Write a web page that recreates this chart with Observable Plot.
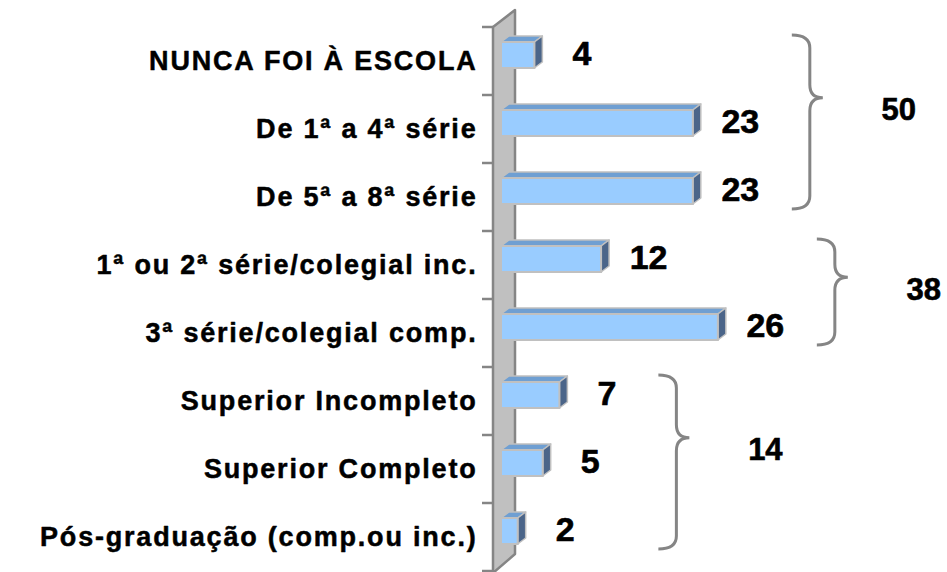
<!DOCTYPE html>
<html><head><meta charset="utf-8">
<script src="https://cdn.jsdelivr.net/npm/d3@7"></script>
<script src="https://cdn.jsdelivr.net/npm/@observablehq/plot@0.6"></script>
<style>
html,body{margin:0;padding:0;background:#fff;}
#chart svg{display:block;}
</style>
</head><body><div id="chart"></div>
<script>
// ---- data ----
const categories = [
  "NUNCA FOI À ESCOLA",
  "De 1ª a 4ª série",
  "De 5ª a 8ª série",
  "1ª ou 2ª série/colegial inc.",
  "3ª série/colegial comp.",
  "Superior Incompleto",
  "Superior Completo",
  "Pós-graduação (comp.ou inc.)"
];
const values = [4, 23, 23, 12, 26, 7, 5, 2];
const groupFirst = [0, 3, 5];
const groupLast = [2, 4, 7];

// ---- derived tables ----
const data = categories.map((c, i) => ({cat: c, value: values[i]}));
const groups = groupFirst.map((f, i) => {
  const vs = values.slice(f, groupLast[i] + 1);
  return {first: categories[f], last: categories[groupLast[i]], max: d3.max(vs), sum: d3.sum(vs)};
});

// ---- styling constants ----
const FONT = "'Liberation Sans', Arial, sans-serif";
const BAR_INSET = 21, BAR_DX = 8, BAR_DY = -6, DEPTH_X = 8, DEPTH_Y = -6;
const WALL_X = 22, WALL_Y = 17;

function bw(y) {
  return typeof y.bandwidth === "function" ? y.bandwidth() : y.bandwidth;
}

function wallMark(index, {x, y}, values, dims) {
  const x0 = x(0), top = dims.marginTop, bottom = dims.height - dims.marginBottom;
  const g = d3.create("svg:g");
  g.append("path")
    .attr("d", `M${x0},${bottom + 2}L${x0},${top}L${x0 + WALL_X},${top - WALL_Y}L${x0 + WALL_X},${bottom - WALL_Y}L${x0},${bottom + 2 }`)
    .attr("fill", "#c0c0c0").attr("stroke", "#858585").attr("stroke-width", 2.5).attr("stroke-linejoin", "round");
  const b = bw(y);
  const edges = categories.map(c => y(c)).concat([y(categories[categories.length - 1]) + b]);
  g.selectAll("line").data(edges).join("line")
    .attr("x1", x0 - 11).attr("x2", x0).attr("y1", d => d).attr("y2", d => d)
    .attr("stroke", "#858585").attr("stroke-width", 2.5);
  return g.node();
}

function barFaces(index, {x, y}) {
  const b = bw(y);
  const g = d3.create("svg:g");
  data.forEach(d => {
    const xl = x(0) + BAR_DX, xr = x(d.value) + BAR_DX;
    const yt = y(d.cat) + BAR_INSET + BAR_DY, yb = y(d.cat) + b - BAR_INSET + BAR_DY;
    g.append("path")
      .attr("d", `M${xl},${yt}L${xl + DEPTH_X},${yt + DEPTH_Y}L${xr + DEPTH_X},${yt + DEPTH_Y}L${xr},${yt}Z`)
      .attr("fill", "#6f9fd2").attr("stroke", "#c0c0c0").attr("stroke-width", 1.5).attr("stroke-linejoin", "round");
    g.append("path")
      .attr("d", `M${xr},${yt}L${xr + DEPTH_X},${yt + DEPTH_Y}L${xr + DEPTH_X},${yb + DEPTH_Y}L${xr},${yb}Z`)
      .attr("fill", "#4b6589").attr("stroke", "#c0c0c0").attr("stroke-width", 1.5).attr("stroke-linejoin", "round");
  });
  return g.node();
}

function braces(index, {x, y}) {
  const b = bw(y);
  const g = d3.create("svg:g");
  groups.forEach(gr => {
    const bx = x(gr.max) + 125;
    const y1 = y(gr.first) + 8, y2 = y(gr.last) + b - 22;
    const yt = y1 + 0.36 * (y2 - y1);
    const r = 13, w = 18, tip = 13;
    g.append("path")
      .attr("d", `M${bx - w},${y1}Q${bx},${y1} ${bx},${y1 + r}L${bx},${yt - r}Q${bx},${yt} ${bx + tip},${yt}Q${bx},${yt} ${bx},${yt + r}L${bx},${y2 - r}Q${bx},${y2} ${bx - w},${y2}`)
      .attr("fill", "none").attr("stroke", "#858585").attr("stroke-width", 3);
    g.append("text")
      .attr("x", bx + tip + 76).attr("y", yt + 12).attr("dy", "0.35em")
      .attr("text-anchor", "middle").attr("font-size", 31).attr("font-weight", "bold")
      .attr("font-family", FONT).attr("fill", "black")
      .attr("stroke", "black").attr("stroke-width", 0.6).attr("paint-order", "stroke")
      .text(String(gr.sum));
  });
  return g.node();
}

const chart = Plot.plot({
  width: 947,
  height: 572,
  marginLeft: 493,
  marginRight: 37,
  marginTop: 27,
  marginBottom: 1,
  style: {fontFamily: FONT, background: "white", color: "black", overflow: "visible"},
  x: {domain: [0, 50], axis: null},
  y: {domain: categories, axis: null, padding: 0},
  marks: [
    wallMark,
    barFaces,
    Plot.barX(data, {x: "value", y: "cat", insetTop: BAR_INSET, insetBottom: BAR_INSET, dx: BAR_DX, dy: BAR_DY,
      fill: "#99ccff", stroke: "#c0c0c0", strokeWidth: 2}),
    Plot.text(data, {x: 0, y: "cat", text: "cat", textAnchor: "end", dx: -16, fontSize: 27, fontWeight: "bold",
      fill: "black", stroke: "black", strokeWidth: 0.5}),
    Plot.text(data, {x: "value", y: "cat", text: d => String(d.value), textAnchor: "middle", dx: 55, dy: -7,
      fontSize: 34, fontWeight: "bold", fill: "black", stroke: "black", strokeWidth: 0.6}),
    braces
  ]
});
chart.querySelectorAll("text").forEach(t => {
  if (categories.includes(t.textContent)) t.style.letterSpacing = "1.8px";
});
document.getElementById("chart").appendChild(chart);
</script>
</body></html>
